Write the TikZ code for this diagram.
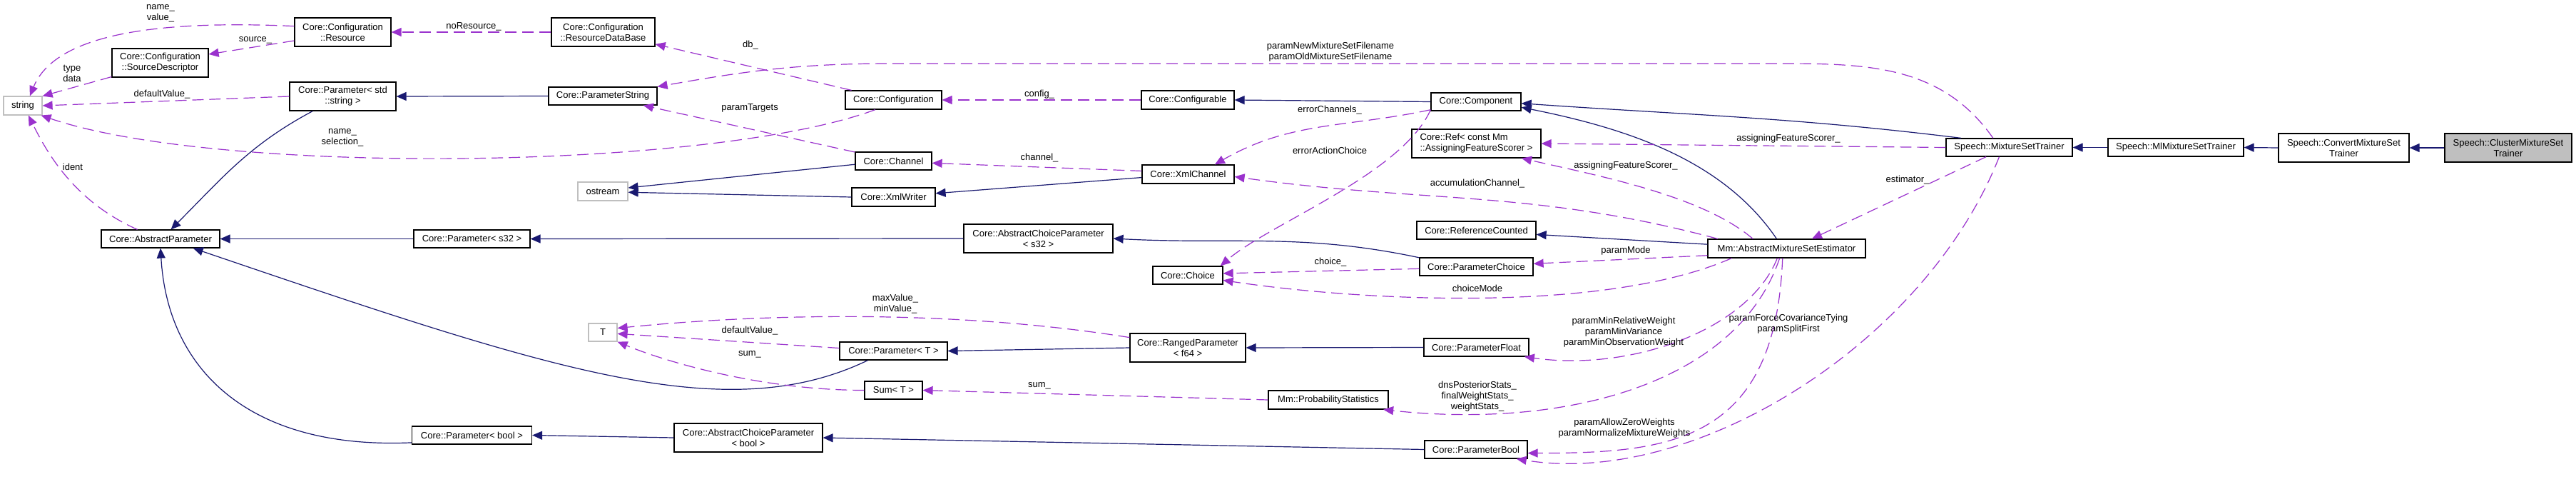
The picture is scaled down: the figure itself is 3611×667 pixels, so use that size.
\documentclass[tikz,border=0pt]{standalone}
\usepackage{fontspec}
\setmainfont{Liberation Sans}
\usetikzlibrary{arrows.meta}
\definecolor{navy}{HTML}{191970}
\definecolor{orchid}{HTML}{9A32CD}
\definecolor{grey75}{HTML}{BFBFBF}
\newcommand{\dxfont}{\fontsize{13}{15}\selectfont}
\tikzset{
  cls/.style={
    draw=black, fill=white, line width=1.2pt,
    inner sep=0pt, align=center, font=\dxfont
  },
  ext/.style={cls, draw=grey75},
  focus/.style={cls, fill=grey75},
  lbl/.style={inner sep=0pt, align=center, font=\dxfont},
  inh/.style={draw=navy, line width=1.2pt, -{Triangle[length=14pt,width=12pt]}},
  use/.style={draw=orchid, line width=1.2pt, dash pattern=on 16pt off 8pt,
    -{Triangle[length=14pt,width=12pt]}}
}
\begin{document}
\begin{tikzpicture}[x=1pt,y=1pt]
  \fill[white] (0,0) rectangle (3611,-667);
  \useasboundingbox (0,0) rectangle (3611,-667);

  \node[ext, minimum width=54pt, minimum height=26pt] (str) at (32,-148) {string};
  \node[cls, minimum width=135pt, minimum height=40pt] (res) at (480.5,-45) {Core::Configuration\\::Resource};
  \node[cls, minimum width=145pt, minimum height=40pt] (resdb) at (845.5,-45) {Core::Configuration\\::ResourceDataBase};
  \node[cls, minimum width=135pt, minimum height=40pt] (srcdesc) at (224.5,-88) {Core::Configuration\\::SourceDescriptor};
  \node[cls, minimum width=149pt, minimum height=40pt] (parStd) at (480.5,-135) {Core::Parameter< std\\::string >};
  \node[cls, minimum width=152pt, minimum height=25pt] (parString) at (845,-134.5) {Core::ParameterString};
  \node[cls, minimum width=135pt, minimum height=26pt] (conf) at (1252.5,-140) {Core::Configuration};
  \node[cls, minimum width=130pt, minimum height=26pt] (confable) at (1665,-140) {Core::Configurable};
  \node[cls, minimum width=126pt, minimum height=25pt] (comp) at (2069,-142.5) {Core::Component};
  \node[cls, minimum width=107pt, minimum height=25pt] (chan) at (1252.5,-225.5) {Core::Channel};
  \node[cls, minimum width=117pt, minimum height=26pt] (xmlw) at (1252.5,-276) {Core::XmlWriter};
  \node[ext, minimum width=70pt, minimum height=26pt] (ostr) at (845,-268) {ostream};
  \node[cls, minimum width=129pt, minimum height=26pt] (xmlch) at (1665.5,-244) {Core::XmlChannel};
  \node[cls, minimum width=181pt, minimum height=40pt, align=left] (ref) at (2069.5,-201) {Core::Ref< const Mm\\::AssigningFeatureScorer >};
  \node[cls, minimum width=177pt, minimum height=25pt] (mst) at (2816.5,-206.5) {Speech::MixtureSetTrainer};
  \node[cls, minimum width=190pt, minimum height=25pt] (mlmst) at (3050,-206.5) {Speech::MlMixtureSetTrainer};
  \node[cls, minimum width=183pt, minimum height=40pt] (cvmst) at (3285.5,-207) {Speech::ConvertMixtureSet\\Trainer};
  \node[focus, minimum width=178pt, minimum height=40pt] (clmst) at (3516,-207) {Speech::ClusterMixtureSet\\Trainer};
  \node[cls, minimum width=166pt, minimum height=25pt] (absPar) at (225,-334.5) {Core::AbstractParameter};
  \node[cls, minimum width=163pt, minimum height=25pt] (parS32) at (661.5,-334.5) {Core::Parameter< s32 >};
  \node[cls, minimum width=209pt, minimum height=40pt] (acpS32) at (1455.5,-334) {Core::AbstractChoiceParameter\\< s32 >};
  \node[cls, minimum width=167pt, minimum height=25pt] (refcnt) at (2069.5,-322.5) {Core::ReferenceCounted};
  \node[cls, minimum width=221pt, minimum height=26pt] (est) at (2504.5,-348) {Mm::AbstractMixtureSetEstimator};
  \node[cls, minimum width=98pt, minimum height=25pt] (choice) at (1665,-385.5) {Core::Choice};
  \node[cls, minimum width=159pt, minimum height=25pt] (parChoice) at (2069.5,-373.5) {Core::ParameterChoice};
  \node[ext, minimum width=40pt, minimum height=25pt] (tT) at (845,-465.5) {T};
  \node[cls, minimum width=162pt, minimum height=40pt] (ranged) at (1665,-487) {Core::RangedParameter\\< f64 >};
  \node[cls, minimum width=151pt, minimum height=25pt] (parT) at (1252.5,-491.5) {Core::Parameter< T >};
  \node[cls, minimum width=147pt, minimum height=25pt] (parFloat) at (2069.5,-486.5) {Core::ParameterFloat};
  \node[cls, minimum width=81pt, minimum height=25pt] (sumT) at (1252.5,-546.5) {Sum< T >};
  \node[cls, minimum width=168pt, minimum height=26pt] (probst) at (1862,-560) {Mm::ProbabilityStatistics};
  \node[cls, minimum width=168pt, minimum height=25pt] (parBool) at (661.5,-609.5) {Core::Parameter< bool >};
  \node[cls, minimum width=208pt, minimum height=40pt] (acpBool) at (1049,-613) {Core::AbstractChoiceParameter\\< bool >};
  \node[cls, minimum width=144pt, minimum height=25pt] (parameterBool) at (2069,-629.5) {Core::ParameterBool};

  \draw[inh] (parString.west) -- (parStd.east);
  \draw[inh] (parStd.206) to[out=208,in=45] (absPar.42);
  \draw[inh] (parS32.west) -- (absPar.east);
  \draw[inh] (acpS32.west) -- (parS32.east);
  \draw[inh] (parChoice.171) to[out=168,in=-3] (acpS32.east);
  \draw[inh] (parT.200) .. controls +(-200,-96) and +(500,-170) .. (absPar.344);
  \draw[inh] (ranged.west) -- (parT.east);
  \draw[inh] (parFloat.west) -- (ranged.east);
  \draw[inh] (parBool.187) .. controls +(-228,-10) and +(10,-170) .. (absPar.south);
  \draw[inh] (acpBool.west) -- (parBool.east);
  \draw[inh] (parameterBool.west) -- (acpBool.east);
  \draw[inh] (chan.185) -- (ostr.8);
  \draw[inh] (xmlw.west) -- (ostr.358);
  \draw[inh] (xmlch.184) -- (xmlw.5);
  \draw[inh] (comp.west) -- (confable.east);
  \draw[inh] (mst.169) to[out=173,in=-4] (comp.358);
  \draw[inh] (est.136) .. controls +(-75,110) and +(150,-30) .. (comp.353);
  \draw[inh] (est.177) -- (refcnt.356);
  \draw[inh] (mlmst.west) -- (mst.east);
  \draw[inh] (cvmst.west) -- (mlmst.east);
  \draw[inh] (clmst.west) -- (cvmst.east);

  \draw[use] (res.173) .. controls +(-200,9) and +(35,85) .. (str.54);
  \draw[use] (res.190) -- (srcdesc.10);
  \draw[use] (srcdesc.196) -- (str.26);
  \draw[use] (parStd.west) -- (str.east);
  \draw[use] (conf.208) .. controls +(-230,-85) and +(250,-85) .. (str.332);
  \draw[use] (conf.167) -- (resdb.347);
  \draw[use] (resdb.west) -- (res.east);
  \draw[use] (chan.167) -- (parString.347);
  \draw[use] (mst.150) to[out=125,in=0] (2480,-89) -- (1250,-89) to[out=180,in=10] (parString.north east);
  \draw[use] (confable.west) -- (conf.east);
  \draw[use] (xmlch.176) -- (chan.357);
  \draw[use] (comp.190) to[out=192,in=30] (xmlch.20);
  \draw[use] (comp.190) .. controls +(-40,-90) and +(70,60) .. (choice.16);
  \draw[use] (est.172) to[out=165,in=-8] (xmlch.357);
  \draw[use] (mst.west) -- (ref.east);
  \draw[use] (est.164) .. controls +(-70,60) and +(110,-25) .. (ref.342);
  \draw[use] (mst.202) -- (est.21);
  \draw[use] (est.185) -- (parChoice.3);
  \draw[use] (est.190) .. controls +(-181,-79) and +(186,-28) .. (choice.352);
  \draw[use] (parChoice.182) -- (choice.3);
  \draw[use] (est.226) .. controls +(-40,-100) and +(150,-21) .. (parFloat.349);
  \draw[use] (est.234) .. controls +(-60,-178) and +(250,-27) .. (probst.350);
  \draw[use] (est.247) .. controls +(-10,-258) and +(200,0) .. (parameterBool.356);
  \draw[use] (mst.223) .. controls +(-103,-261) and +(250,-40) .. (parameterBool.347);
  \draw[use] (probst.west) -- (sumT.east);
  \draw[use] (sumT.west) .. controls +(-150,0) and +(60,-25) .. (tT.south east);
  \draw[use] (parT.177) -- (tT.355);
  \draw[use] (ranged.170) .. controls +(-250,40) and +(200,20) .. (tT.16);
  \draw[use] (absPar.158) .. controls +(-90,40) and +(25,-50) .. (str.300);

  \node[lbl] (lNameValue) at (225,-19) {name\_\\value\_};
  \node[lbl] (lSource) at (358,-56) {source\_};
  \node[lbl] (lTypeData) at (101,-103) {type\\data};
  \node[lbl] (lDefStr) at (227,-132) {defaultValue\_};
  \node[lbl] (lNameSel) at (480,-193) {name\_\\selection\_};
  \node[lbl] (lIdent) at (102,-234) {ident};
  \node[lbl] (lNoRes) at (664,-37) {noResource\_};
  \node[lbl] (lDb) at (1052,-63) {db\_};
  \node[lbl] (lTargets) at (1051,-151) {paramTargets};
  \node[lbl] (lFilenames) at (1865,-73) {paramNewMixtureSetFilename\\paramOldMixtureSetFilename};
  \node[lbl] (lConfig) at (1457,-132) {config\_};
  \node[lbl] (lChannel) at (1457,-221) {channel\_};
  \node[lbl] (lErrCh) at (1864,-154) {errorChannels\_};
  \node[lbl] (lErrAct) at (1864,-211) {errorActionChoice};
  \node[lbl] (lAccCh) at (2071,-257) {accumulationChannel\_};
  \node[lbl] (lScorerA) at (2279,-232) {assigningFeatureScorer\_};
  \node[lbl] (lScorerB) at (2507,-194) {assigningFeatureScorer\_};
  \node[lbl] (lEstim) at (2674,-252) {estimator\_};
  \node[lbl] (lMinMax) at (1255,-426) {maxValue\_\\minValue\_};
  \node[lbl] (lDefT) at (1051,-463) {defaultValue\_};
  \node[lbl] (lSumT) at (1051,-496) {sum\_};
  \node[lbl] (lSumStat) at (1457,-540) {sum\_};
  \node[lbl] (lChoice) at (1865,-367) {choice\_};
  \node[lbl] (lMode) at (2279,-351) {paramMode};
  \node[lbl] (lChoiceMode) at (2071,-404) {choiceMode};
  \node[lbl] (lMinW) at (2276,-465) {paramMinRelativeWeight\\paramMinVariance\\paramMinObservationWeight};
  \node[lbl] (lStats) at (2071,-555) {dnsPosteriorStats\_\\finalWeightStats\_\\weightStats\_};
  \node[lbl] (lZeroW) at (2277,-600) {paramAllowZeroWeights\\paramNormalizeMixtureWeights};
  \node[lbl] (lCovTy) at (2507,-454) {paramForceCovarianceTying\\paramSplitFirst};
\end{tikzpicture}
\end{document}
